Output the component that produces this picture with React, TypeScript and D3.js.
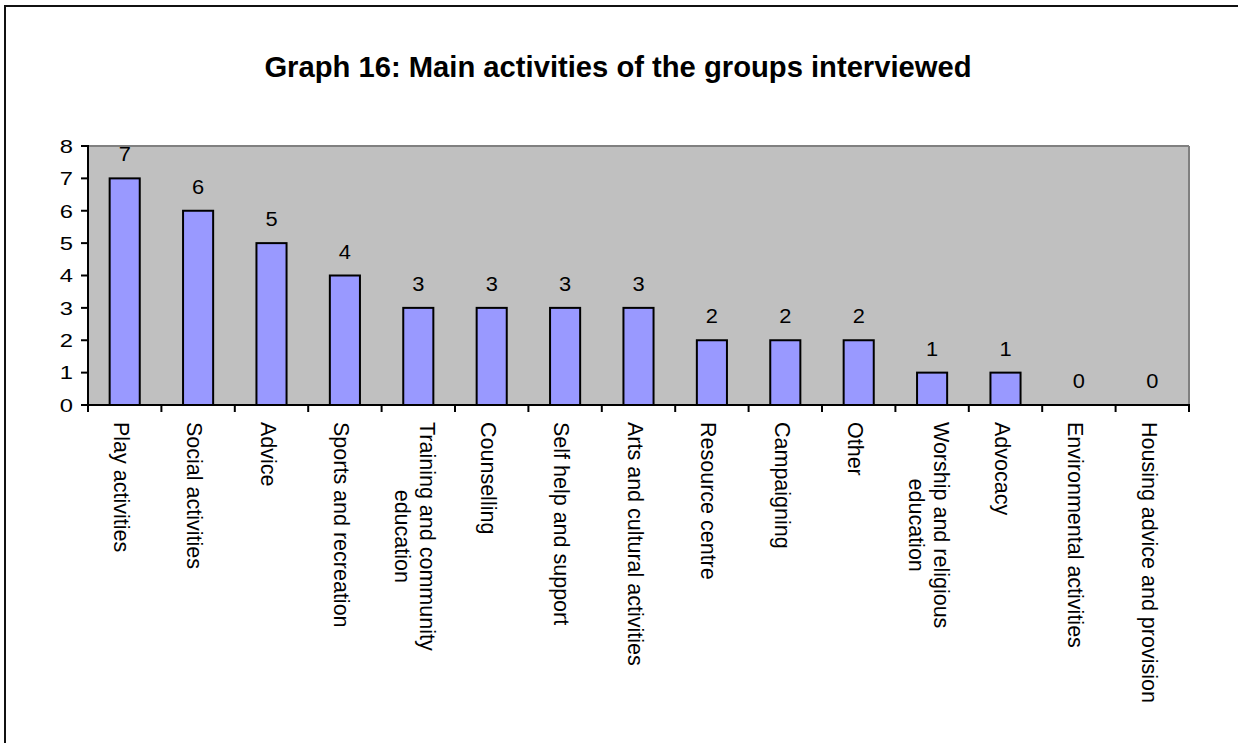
import React from "react";
import * as d3 from "d3";

const categories: string[][] = [
  ["Play activities"],
  ["Social activities"],
  ["Advice"],
  ["Sports and recreation"],
  ["Training and community", "education"],
  ["Counselling"],
  ["Self help and support"],
  ["Arts and cultural activities"],
  ["Resource centre"],
  ["Campaigning"],
  ["Other"],
  ["Worship and religious", "education"],
  ["Advocacy"],
  ["Environmental activities"],
  ["Housing advice and provision"],
];
const values: number[] = [7, 6, 5, 4, 3, 3, 3, 3, 2, 2, 2, 1, 1, 0, 0];
const yTicks: number[] = [0, 1, 2, 3, 4, 5, 6, 7, 8];
const title = "Graph 16: Main activities of the groups interviewed";

const FONT = "'Liberation Sans', Arial, Helvetica, sans-serif";

export default function App() {
  const W = 1238;
  const H = 743;
  const left = 88;
  const right = 1189;
  const top = 146;
  const bottom = 405;

  const x = d3
    .scaleBand<number>()
    .domain(d3.range(categories.length))
    .range([left, right])
    .paddingInner(0)
    .paddingOuter(0);
  const y = d3.scaleLinear().domain([0, 8]).range([bottom, top]);
  const bw = x.bandwidth() * 0.41;

  const catFont = 21.5;
  const lineGap = 25;
  let ctx: CanvasRenderingContext2D | null = null;
  try {
    ctx = document.createElement("canvas").getContext("2d");
    if (ctx) ctx.font = `${catFont}px ${FONT}`;
  } catch (e) {
    ctx = null;
  }
  const measure = (s: string) => (ctx ? ctx.measureText(s).width : s.length * catFont * 0.5);
  const labelTop = 422;

  const boundaries = d3.range(categories.length + 1).map((i) =>
    i < categories.length ? (x(i) as number) : right
  );

  return (
    <svg
      width={W}
      height={H}
      style={{ position: "absolute", left: 0, top: 0, background: "#fff" }}
      fontFamily={FONT}
    >
      <rect x={0} y={0} width={W} height={H} fill="#fff" />
      {/* outer frame */}
      <rect x={5} y={6} width={W + 20} height={H + 20} fill="none" stroke="#111" strokeWidth={2} />

      {/* title */}
      <text x={618} y={77} textAnchor="middle" fontSize={29.2} fontWeight="bold" fill="#000">
        {title}
      </text>

      {/* plot area */}
      <rect x={left} y={top} width={right - left} height={bottom - top} fill="#C0C0C0" />
      <line x1={left} x2={right} y1={top} y2={top} stroke="#808080" strokeWidth={2} />
      <line x1={right} x2={right} y1={top} y2={bottom} stroke="#808080" strokeWidth={2} />

      {/* bars */}
      {values.map((v, i) => {
        const cx = (x(i) as number) + x.bandwidth() / 2;
        return (
          <g key={i}>
            {v > 0 && (
              <rect
                x={cx - bw / 2}
                y={y(v)}
                width={bw}
                height={y(0) - y(v)}
                fill="#9999FF"
                stroke="#000"
                strokeWidth={2}
              />
            )}
            <text
              transform={`translate(${cx},${y(v) - 17}) scale(1.12,1)`}
              textAnchor="middle"
              fontSize={19.5}
              fill="#000"
            >
              {v}
            </text>
          </g>
        );
      })}

      {/* y axis */}
      <line x1={left} x2={left} y1={top - 1} y2={bottom} stroke="#000" strokeWidth={2} />
      {yTicks.map((t) => (
        <g key={t}>
          <line x1={left - 7} x2={left} y1={y(t)} y2={y(t)} stroke="#000" strokeWidth={2} />
          <text
            transform={`translate(73,${y(t)}) scale(1.25,1)`}
            dy="0.36em"
            textAnchor="end"
            fontSize={19}
            fill="#000"
          >
            {t}
          </text>
        </g>
      ))}

      {/* x axis */}
      <line x1={left - 1} x2={right + 1} y1={bottom} y2={bottom} stroke="#000" strokeWidth={2} />
      {boundaries.map((bx, i) => (
        <line key={i} x1={bx} x2={bx} y1={bottom} y2={bottom + 7} stroke="#000" strokeWidth={2} />
      ))}

      {/* category labels */}
      {categories.map((lines, i) => {
        const cx = (x(i) as number) + x.bandwidth() / 2;
        const maxLen = Math.max(...lines.map(measure));
        const midY = labelTop + maxLen / 2;
        const n = lines.length;
        return (
          <g key={i}>
            {lines.map((ln, j) => {
              const offset = ((n - 1) / 2 - j) * lineGap;
              const lx = cx + offset;
              return (
                <text
                  key={j}
                  transform={`translate(${lx},${midY}) rotate(90)`}
                  textAnchor="middle"
                  dy="0.5em"
                  fontSize={catFont}
                  fill="#000"
                >
                  {ln}
                </text>
              );
            })}
          </g>
        );
      })}
    </svg>
  );
}
